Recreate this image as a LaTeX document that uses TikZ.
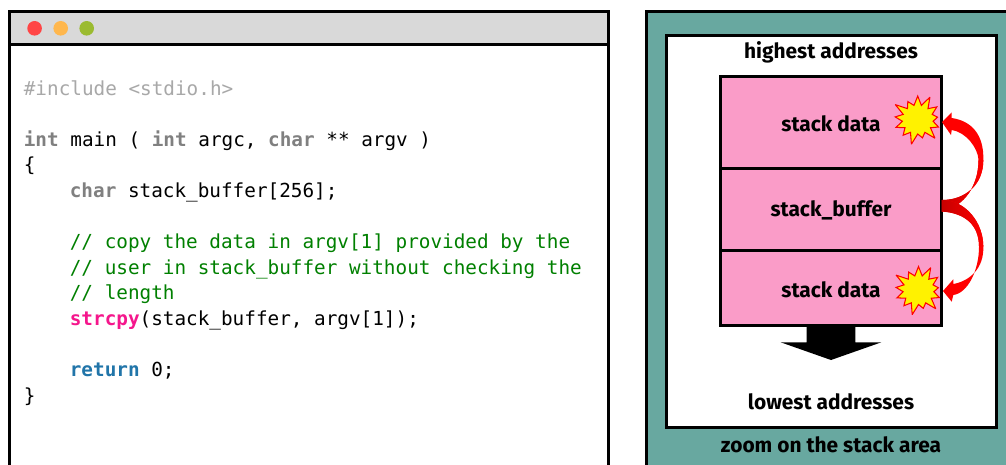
\documentclass[tikz,border=0pt]{standalone}
\usepackage{fontspec}
\setmonofont{DejaVu Sans Mono}
\newfontfamily\labelfont{Fira Sans}
\usepackage{tikz}
\usetikzlibrary{calc,shapes.symbols}
\definecolor{barcolor}{HTML}{D9D9D9}
\definecolor{tealcolor}{HTML}{68A8A0}
\definecolor{stackpink}{HTML}{FA9CC8}
\definecolor{includegray}{HTML}{A8A8A8}
\definecolor{keygray}{HTML}{808080}
\definecolor{commentgreen}{HTML}{008000}
\definecolor{callpink}{HTML}{F5168C}
\definecolor{returnblue}{HTML}{2175A9}
\definecolor{dotred}{HTML}{FF4545}
\definecolor{dotorange}{HTML}{FFB74D}
\definecolor{dotgreen}{HTML}{9BBB30}
\tikzset{
	codeline/.style={anchor=base west, inner sep=0pt, font=\ttfamily\fontsize{11}{13}\selectfont},
	addrlabel/.style={inner sep=0pt, anchor=base, font=\labelfont\bfseries\fontsize{11.9}{13}\selectfont},
	stackbox/.style={draw=black, line width=1.7pt, fill=stackpink, minimum width=4.42cm, inner sep=0pt, font=\labelfont\bfseries\fontsize{11.9}{13}\selectfont},
	stacktext/.style={inner sep=0pt, font=\labelfont\bfseries\fontsize{11.9}{13}\selectfont},
	hitmark/.style={starburst, starburst points=13, starburst point height=0.25cm, minimum width=1.12cm, minimum height=1.08cm, inner sep=0pt, fill=yellow, draw=red, line width=0.6pt, miter limit=3}
}
\newcommand{\kw}[1]{{\bfseries\color{keygray}#1}}
\begin{document}
\begin{tikzpicture}[x=0.02cm, y=-0.02cm]
			\clip (0, 0) rectangle (1006, 464);
			
			%%%%% code window %%%%%
			\draw[line width=1.7pt, fill=white] (9.5, 11.5) rectangle (608.5, 490);
			\draw[line width=1.7pt, fill=barcolor] (9.5, 11.5) rectangle (608.5, 44.5);
			\fill[color=dotred] (34.6, 28.3) circle (7.3);
			\fill[color=dotorange] (60.7, 28.3) circle (7.3);
			\fill[color=dotgreen] (86.7, 28.3) circle (7.3);
			
			\node[codeline, text=includegray] (lineinclude) at (23.5, 95) {\#include <stdio.h>};
			\node[codeline] (linemain) at (23.5, 146) {\kw{int} main ( \kw{int} argc, \kw{char} ** argv )};
			\node[codeline] (lineopen) at (23.5, 171.7) {\{};
			\node[codeline] (linebuffer) at (69.5, 197.3) {\kw{char} stack\_buffer[256];};
			\node[codeline, text=commentgreen] (linecopy) at (69.5, 248.5) {// copy the data in argv[1] provided by the};
			\node[codeline, text=commentgreen] (lineuser) at (69.5, 274) {// user in stack\_buffer without checking the};
			\node[codeline, text=commentgreen] (linelength) at (69.5, 299.7) {// length};
			\node[codeline] (linecall) at (69.5, 325.3) {{\bfseries\color{callpink}strcpy}(stack\_buffer, argv[1]);};
			\node[codeline] (linereturn) at (69.5, 376.5) {{\bfseries\color{returnblue}return} 0;};
			\node[codeline] (lineclose) at (23.5, 402) {\}};
			
			%%%%% stack panel %%%%%
			\draw[line width=1.7pt, fill=tealcolor] (646, 11.5) rectangle (1030, 490);
			\draw[line width=1.7pt, fill=white] (666, 35.5) rectangle (996, 427.5);
			
			\node[addrlabel] (highest) at (831, 58.5) {highest addresses};
			\node[addrlabel] (lowest) at (831, 409.5) {lowest addresses};
			\node[addrlabel] (zoomtitle) at (831, 452.5) {zoom on the stack area};
			
			\node[stackbox, minimum height=1.835cm] (datatop) at (831, 122.6) {};
			\node[stackbox, minimum height=1.64cm] (buffer) at (831, 209.5) {};
			\node[stackbox, minimum height=1.5cm] (databot) at (831, 288) {};
			\node[stacktext] (datatoptext) at (831, 123.5) {stack data};
			\node[stacktext] (buffertext) at (831, 210.5) {stack\_buffer};
			\node[stacktext] (databottext) at (831, 289.5) {stack data};
			
			\fill (806.7, 326) -- (855.3, 326) -- (855.3, 342.3) -- (881.3, 342.3) -- (831, 360) -- (780.7, 342.3) -- (806.7, 342.3) -- cycle;
			
			\node[hitmark] (hittop) at (917.7, 119.5) {};
			\node[hitmark] (hitbot) at (918.5, 290) {};
			
			%%%%% overflow arrows %%%%%
			\coordinate (tailup) at ($(buffer.east)+(-1, -9.5)$);
			\coordinate (taildown) at ($(buffer.east)+(-1, 2)$);
			\coordinate (tiptop) at ($(datatop.east)+(-1, -0.5)$);
			\coordinate (tipbot) at ($(databot.east)+(0, 3)$);
			
			\fill[color=red] (tailup) .. controls (965, 200) and (983.3, 185) .. (983.3, 160) .. controls (984, 135) and (972, 121) .. (951.7, 118) -- (951.7, 112.3) -- (tiptop) -- (951, 135) -- (951.7, 130) .. controls (966, 132) and (978, 148) .. (978.5, 160) .. controls (978.5, 185) and (965, 206) .. (taildown) -- cycle;
			\shade[left color=red!78!black, right color=red] (tailup) .. controls (965, 200) and (983.3, 185) .. (983.3, 160) -- (978.5, 160) .. controls (978.5, 185) and (965, 206) .. (taildown) -- cycle;
			
			\fill[color=red] (tailup) .. controls (965, 200) and (983.3, 222) .. (983.3, 246.7) .. controls (984, 268) and (970, 281) .. (953.3, 284) -- (953.3, 279.3) -- (tipbot) -- (951.7, 301.7) -- (953.3, 295) .. controls (968, 293) and (979, 270) .. (979, 246.7) .. controls (979, 225) and (965, 213) .. (taildown) -- cycle;
			\shade[left color=red!78!black, right color=red] (tailup) .. controls (965, 200) and (983.3, 222) .. (983.3, 246.7) -- (979, 246.7) .. controls (979, 225) and (965, 213) .. (taildown) -- cycle;
		\end{tikzpicture}
\end{document}
